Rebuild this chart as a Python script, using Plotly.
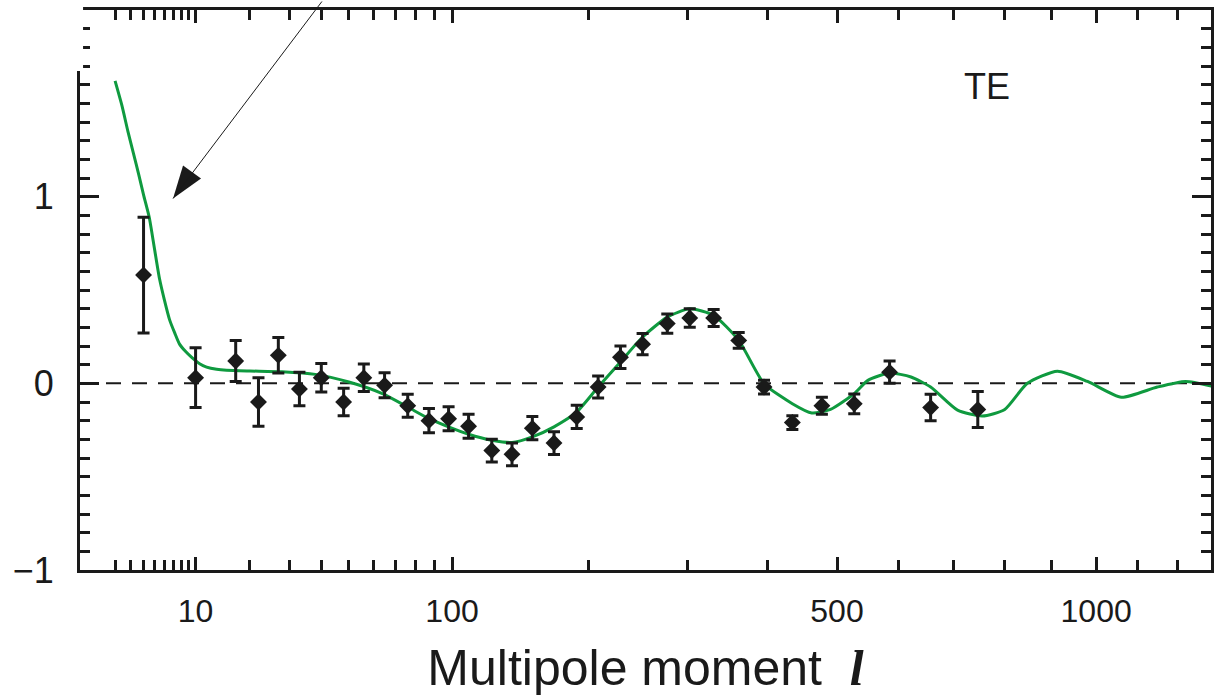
import numpy as np
import plotly.graph_objects as go

# ---- data ----
ell_data = [4, 10, 17, 22, 27, 33, 40, 48, 56, 65, 76, 87, 98, 110, 125, 139, 154,
            171, 190, 209, 230, 252, 278, 303, 331, 362, 395, 434, 477, 527, 585, 657, 746]
te_data = [0.58, 0.03, 0.12, -0.10, 0.15, -0.03, 0.03, -0.10, 0.03, -0.01, -0.12, -0.20,
           -0.19, -0.23, -0.36, -0.38, -0.24, -0.32, -0.18, -0.02, 0.14, 0.21, 0.32, 0.35,
           0.35, 0.23, -0.02, -0.21, -0.12, -0.11, 0.06, -0.13, -0.14]
te_err = [0.31, 0.16, 0.11, 0.13, 0.095, 0.09, 0.076, 0.074, 0.074, 0.067, 0.062, 0.065,
          0.064, 0.064, 0.061, 0.061, 0.062, 0.061, 0.062, 0.059, 0.060, 0.057, 0.052, 0.049,
          0.045, 0.042, 0.037, 0.037, 0.046, 0.053, 0.060, 0.071, 0.096]

ell_model = [2, 2.4, 2.8, 3.2, 3.6, 4.0, 4.5, 5.0, 5.5, 6.0, 6.6, 7.2, 7.8, 8.6, 9.4, 10.6,
             11.7, 13.4, 15.2, 20, 28, 38, 50, 64, 76, 87, 98, 110, 125, 139, 154, 171, 190,
             209, 230, 252, 278, 303, 331, 362, 395, 434, 462, 490, 527, 549, 585, 622, 657,
             707, 755, 800, 847, 912, 980, 1060, 1149, 1222, 1293]
te_model = [1.62, 1.49, 1.35, 1.23, 1.12, 1.01, 0.89, 0.72, 0.56, 0.45, 0.34, 0.27, 0.21,
            0.17, 0.14, 0.105, 0.087, 0.075, 0.070, 0.066, 0.062, 0.048, 0.007, -0.055, -0.127,
            -0.189, -0.233, -0.273, -0.305, -0.317, -0.287, -0.233, -0.153, -0.020, 0.114, 0.248,
            0.355, 0.399, 0.364, 0.230, -0.002, -0.109, -0.159, -0.140, -0.055, 0.016, 0.055,
            0.034, -0.020, -0.144, -0.175, -0.140, 0.0, 0.065, 0.01, -0.075, -0.02, 0.01, -0.015]

major_ell = [10, 100, 500, 1000]
major_labels = ['10', '100', '500', '1000']
minor_ell = [2, 3, 4, 5, 6, 7, 8, 9, 20, 30, 40, 50, 60, 70, 80, 90, 200, 300, 400,
             600, 700, 800, 900, 1100, 1200]
y_major = [-1, 0, 1]
y_labels = ['\u22121', '0', '1']

arrow_tip = (7.0, 0.99)   # (ell, TE) where the arrow points
label_pos = (765, 1.59)   # (ell, TE) of the "TE" panel label


def pscale(v):
    """Horizontal scale of the original figure: position ~ ell**0.4."""
    return np.power(np.asarray(v, dtype=float), 0.4)


INK = '#1a1a1a'
GREEN = '#0f9a3f'
SANS = 'Liberation Sans, Arial, Helvetica, sans-serif'

fig = go.Figure()

fig.add_trace(go.Scatter(
    x=pscale(ell_model), y=te_model, mode='lines',
    line=dict(color=GREEN, width=3, shape='spline', smoothing=0.6),
    showlegend=False, hoverinfo='skip'))

fig.add_trace(go.Scatter(
    x=pscale(ell_data), y=te_data, mode='markers',
    marker=dict(symbol='diamond', size=13, color=INK),
    error_y=dict(type='data', array=te_err, visible=True, color=INK, thickness=3, width=6),
    showlegend=False))

# dashed zero line
fig.add_shape(type='line', xref='paper', x0=0, x1=1, yref='y', y0=0, y1=0,
              line=dict(color=INK, width=2, dash='15px,11px'), layer='below')

# white cover over the broken part of the left axis (crop artefact of the original)
fig.add_shape(type='rect', xref='paper', yref='paper', x0=-0.05, x1=0.0027,
              y0=0.891, y1=1.1, fillcolor='white', line=dict(width=0), layer='above')

# arrow head (filled triangle) + thin shaft
tip_x = float(pscale(arrow_tip[0]))
fig.add_shape(type='path', xref='x', yref='y', xsizemode='pixel', ysizemode='pixel',
              xanchor=tip_x, yanchor=arrow_tip[1],
              path='M0,0 L10,33 L28,20 Z', fillcolor=INK, line=dict(width=0), layer='above')
fig.add_annotation(x=tip_x, y=arrow_tip[1], xref='x', yref='y', text='',
                   showarrow=True, arrowhead=0, arrowwidth=1, arrowcolor=INK,
                   ax=150, ay=-210)

fig.add_annotation(text='TE', xref='x', yref='y', x=float(pscale(label_pos[0])), y=label_pos[1],
                   showarrow=False, font=dict(family=SANS, size=36, color=INK))

# cut-off label of the panel above
fig.add_annotation(text='300', xref='paper', yref='paper', x=-0.001, y=1.013,
                   xanchor='right', yanchor='bottom', showarrow=False,
                   font=dict(family=SANS, size=34, color=INK))

fig.update_layout(
    width=1217, height=700,
    margin=dict(l=80, r=3, t=10, b=130),
    paper_bgcolor='white', plot_bgcolor='white',
    font=dict(family=SANS, color=INK),
    xaxis=dict(
        range=[0.80, 17.55], tickmode='array', tickvals=pscale(major_ell), ticktext=major_labels,
        ticks='inside', ticklen=13, tickwidth=2.5, tickcolor=INK,
        showline=True, linewidth=3, linecolor=INK, mirror='allticks',
        showgrid=False, zeroline=False,
        minor=dict(tickmode='array', tickvals=pscale(minor_ell), ticks='inside',
                   ticklen=10, tickwidth=2.5, tickcolor=INK, showgrid=False),
        tickfont=dict(family=SANS, size=32, color=INK), ticklabelstandoff=11,
        title=dict(text='Multipole moment  <b><i><span style="font-family:Liberation Serif">l</span></i></b>',
                   font=dict(family=SANS, size=50, color=INK), standoff=22)),
    yaxis=dict(
        range=[-1, 2], tickmode='array', tickvals=y_major, ticktext=y_labels,
        ticks='inside', ticklen=19, tickwidth=3, tickcolor=INK,
        showline=True, linewidth=3, linecolor=INK, mirror='allticks',
        showgrid=False, zeroline=False,
        minor=dict(tickmode='linear', tick0=0, dtick=0.1, ticks='inside',
                   ticklen=10, tickwidth=3, tickcolor=INK, showgrid=False),
        tickfont=dict(family=SANS, size=36, color=INK), ticklabelstandoff=16),
)

fig.write_html('out.html')
